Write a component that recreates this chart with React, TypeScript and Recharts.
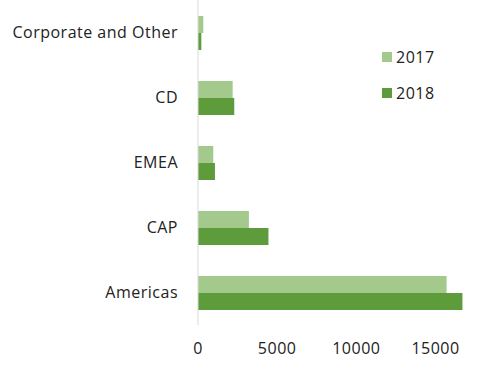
import React from 'react';
import { BarChart, Bar, XAxis, YAxis } from 'recharts';

const categories = ['Corporate and Other', 'CD', 'EMEA', 'CAP', 'Americas'];
const values2017 = [335, 2190, 965, 3215, 15700];
const values2018 = [210, 2290, 1070, 4450, 16700];
const xTicks = [0, 5000, 10000, 15000];
const seriesNames = ['2017', '2018'];

const data = categories.map((name, i) => ({ name, y2017: values2017[i], y2018: values2018[i] }));

const FONT = '"Open Sans", sans-serif';
const LIGHT = '#a3c98c';
const DARK = '#5e9b3b';
const colors = [LIGHT, DARK];

export default function App() {
  return (
    <div style={{ position: 'absolute', left: 0, top: 0, width: 483, height: 367, background: '#fff' }}>
      <BarChart
        width={483}
        height={367}
        data={data}
        layout="vertical"
        margin={{ top: 0, right: 19, bottom: 12, left: 0 }}
        barCategoryGap={16}
        barGap={0}
      >
        <XAxis
          type="number"
          domain={[0, 16800]}
          ticks={xTicks}
          axisLine={false}
          tickLine={false}
          tickMargin={12}
          height={30}
          interval={0}
          tick={{ fill: '#222', fontSize: 16, fontFamily: FONT, letterSpacing: 0.5 }}
        />
        <YAxis
          type="category"
          dataKey="name"
          width={198}
          axisLine={{ stroke: '#d9d9d9' }}
          tickLine={false}
          tickMargin={14}
          interval={0}
          tick={{ fill: '#222', fontSize: 16, fontFamily: FONT, letterSpacing: 0.5 }}
        />
        <Bar dataKey="y2017" name="2017" fill={LIGHT} isAnimationActive={false} />
        <Bar dataKey="y2018" name="2018" fill={DARK} isAnimationActive={false} />
      </BarChart>
      <div style={{ position: 'absolute', left: 382, top: 39, fontFamily: FONT, fontSize: 16, color: '#222', letterSpacing: 0.5 }}>
        {seriesNames.map((label, i) => (
          <div key={label} style={{ display: 'flex', alignItems: 'center', height: 36 }}>
            <span style={{ display: 'inline-block', width: 10, height: 10, background: colors[i], marginRight: 4 }} />
            <span>{label}</span>
          </div>
        ))}
      </div>
    </div>
  );
}
